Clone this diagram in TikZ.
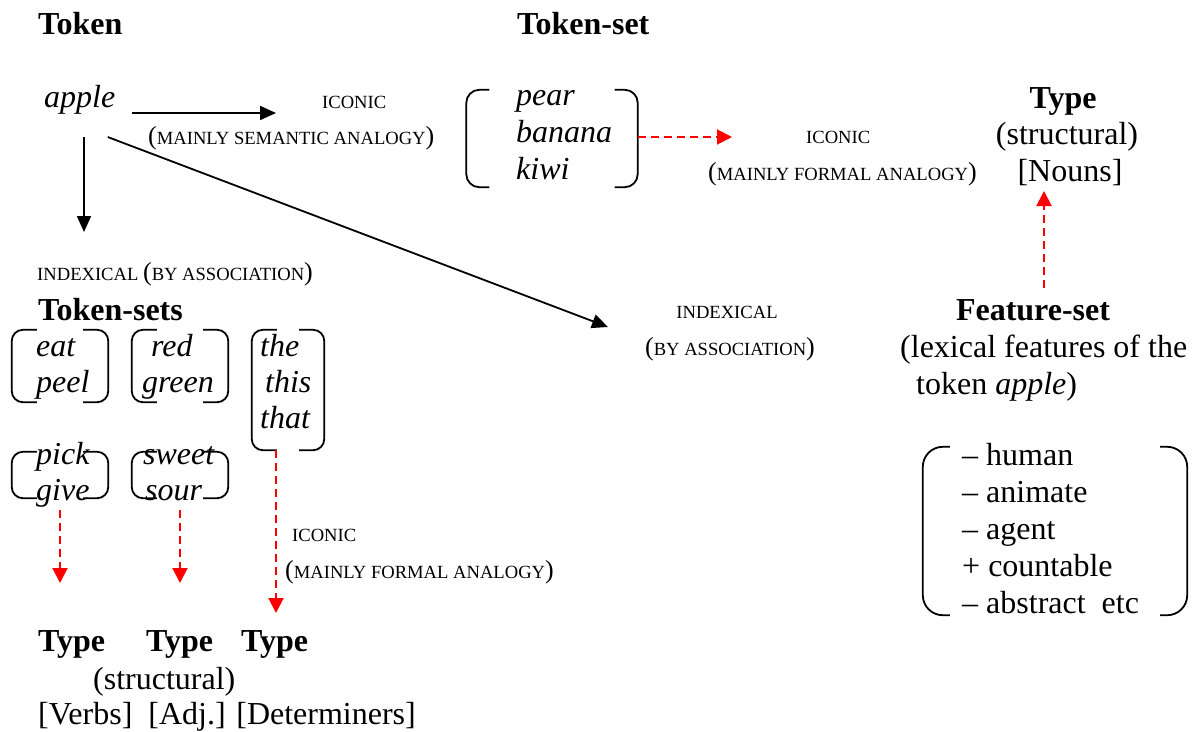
\documentclass[tikz,border=0pt]{standalone}
\usepackage{fontspec}
\setmainfont{Liberation Serif}
\usetikzlibrary{arrows.meta,positioning}

\newcommand{\capsize}[1]{{\fontsize{18.6}{22}\selectfont #1}}
\newcommand{\parennote}[1]{{\fontsize{26}{30}\selectfont(}\capsize{#1}{\fontsize{26}{30}\selectfont)}}
% draws the two brackets round a set node
\newcommand{\brackets}[3][11]{%
  \draw[bracket, rounded corners=#1] ([xshift=#3]#2.north west) -- (#2.north west) -- (#2.south west) -- ([xshift=#3]#2.south west);
  \draw[bracket, rounded corners=#1] ([xshift=-#3]#2.north east) -- (#2.north east) -- (#2.south east) -- ([xshift=-#3]#2.south east);}

\tikzset{
  every node/.style={inner sep=0pt, font=\fontsize{32}{37}\selectfont},
  head/.style={font=\fontsize{32}{37}\selectfont\bfseries},
  word/.style={font=\fontsize{32}{37}\selectfont\itshape},
  setbox/.style={inner sep=0pt, minimum width=#1},
  bracket/.style={line width=1.8pt},
  blackarrow/.style={line width=1.8pt, -{Triangle[length=16pt,width=14pt]}},
  redarrow/.style={red, line width=2pt, dash pattern=on 8pt off 5pt, -{Triangle[length=15pt,width=15pt]}},
}

\begin{document}
\begin{tikzpicture}[x=1pt,y=-1pt]
\useasboundingbox (0,0) rectangle (1193,731);

% top row
\node[head, anchor=base west] (token) at (38,34) {Token};
\node[head, anchor=base west] (tokenset) at (517,34) {Token-set};
\node[word, anchor=base west] (apple) at (44,107) {apple};
\node[anchor=base west] (iconsem) at (322,108) {\capsize{ICONIC}};
\node[anchor=base west] (iconsemnote) at (148,144) {\parennote{MAINLY SEMANTIC ANALOGY}};

\node[setbox=171, minimum height=97] (fruitset) at (552,138.5) {};
\brackets[13]{fruitset}{23}
\node[word, anchor=base west] (pear) at (516,105) {pear};
\node[word, anchor=base west] (banana) at (516,142) {banana};
\node[word, anchor=base west] (kiwi) at (516,179) {kiwi};
\node[anchor=base west] (iconform) at (806,143) {\capsize{ICONIC}};
\node[anchor=base west] (iconformnote) at (708,180) {\parennote{MAINLY FORMAL ANALOGY}};

\node[head, anchor=base] (nountype) at (1063,108) {Type};
\node[anchor=base] (nounstruct) at (1067,144) {(structural)};
\node[anchor=base] (nouns) at (1070,181) {[Nouns]};

% arrows from apple
\coordinate (semtip) at (276,113);
\coordinate (downtip) at (84,232);
\coordinate (diagtip) at (608,327);
\draw[blackarrow] ([xshift=17]apple.east |- semtip) -- (semtip);
\draw[blackarrow] ([yshift=-23]apple.south -| downtip) -- (downtip);
\draw[blackarrow] ([xshift=28,yshift=-23]apple.south) -- (diagtip);
\coordinate (formtip) at (732,137);
\draw[redarrow] (fruitset.east |- formtip) -- (formtip);

% left column
\node[anchor=base west] (indexleft) at (37,280) {\capsize{INDEXICAL }\parennote{BY ASSOCIATION}};
\node[head, anchor=base west] (tokensets) at (38,320) {Token-sets};

\node[setbox=96, minimum height=72] (eatset) at (60,366) {};
\node[setbox=96, minimum height=72] (redset) at (180,366) {};
\node[setbox=72, minimum height=120] (theset) at (288,390) {};
\node[setbox=96, minimum height=46] (pickset) at (60,475) {};
\node[setbox=96, minimum height=46] (sweetset) at (180,475) {};
\foreach \s in {eatset,redset,theset,pickset,sweetset}{ \brackets{\s}{25} }

\node[word, anchor=base west] (eat) at (36,356) {eat};
\node[word, anchor=base west] (peel) at (36,392) {peel};
\node[word, anchor=base west] (red) at (151,356) {red};
\node[word, anchor=base west] (green) at (142,392) {green};
\node[word, anchor=base west] (the) at (260,356) {the};
\node[word, anchor=base west] (this) at (265,392) {this};
\node[word, anchor=base west] (that) at (260,428) {that};
\node[word, anchor=base west] (pick) at (36,464) {pick};
\node[word, anchor=base west] (give) at (36,500) {give};
\node[word, anchor=base west] (sweet) at (143,464) {sweet};
\node[word, anchor=base west] (sour) at (145,500) {sour};

\node[anchor=base west] (iconleft) at (292,541) {\capsize{ICONIC}};
\node[anchor=base west] (iconleftnote) at (285,578) {\parennote{MAINLY FORMAL ANALOGY}};

\coordinate (verbtip) at (60,583);
\coordinate (adjtip) at (180,583);
\coordinate (dettip) at (276,613);
\draw[redarrow] ([yshift=-12]pickset.south) -- (verbtip);
\draw[redarrow] ([yshift=-12]sweetset.south) -- (adjtip);
\draw[redarrow] ([xshift=-12]theset.south) -- (dettip);

\node[head, anchor=base west] (verbtype) at (38,651) {Type};
\node[head, anchor=base west] (adjtype) at (146,651) {Type};
\node[head, anchor=base west] (dettype) at (241,651) {Type};
\node[anchor=base west] (lowstruct) at (93,689) {(structural)};
\node[anchor=base west] (lowclasses) at (38,724) {[Verbs]\ \ [Adj.] [Determiners]};

% right side
\node[anchor=base] (indexright) at (727,318) {\capsize{INDEXICAL}};
\node[anchor=base] (indexrightnote) at (730,355) {\parennote{BY ASSOCIATION}};
\node[head, anchor=base] (featset) at (1033,320) {Feature-set};
\node[anchor=base west] (featnote) at (900,357) {(lexical features of the};
\node[anchor=base west] (featnote2) at (916,394) {token \textit{apple})};
\coordinate (nountip) at (1044,191);
\draw[redarrow] ([xshift=11,yshift=11]featset.north) -- (nountip);

\node[setbox=264, minimum height=168] (featbox) at (1055,531) {};
\brackets[20]{featbox}{27}
\foreach \feat [count=\i] in {-- human, -- animate, -- agent, + countable, -- abstract\ \ etc}
  \node[anchor=base west] (feat\i) at (962,428+37*\i) {\feat};
\end{tikzpicture}
\end{document}
